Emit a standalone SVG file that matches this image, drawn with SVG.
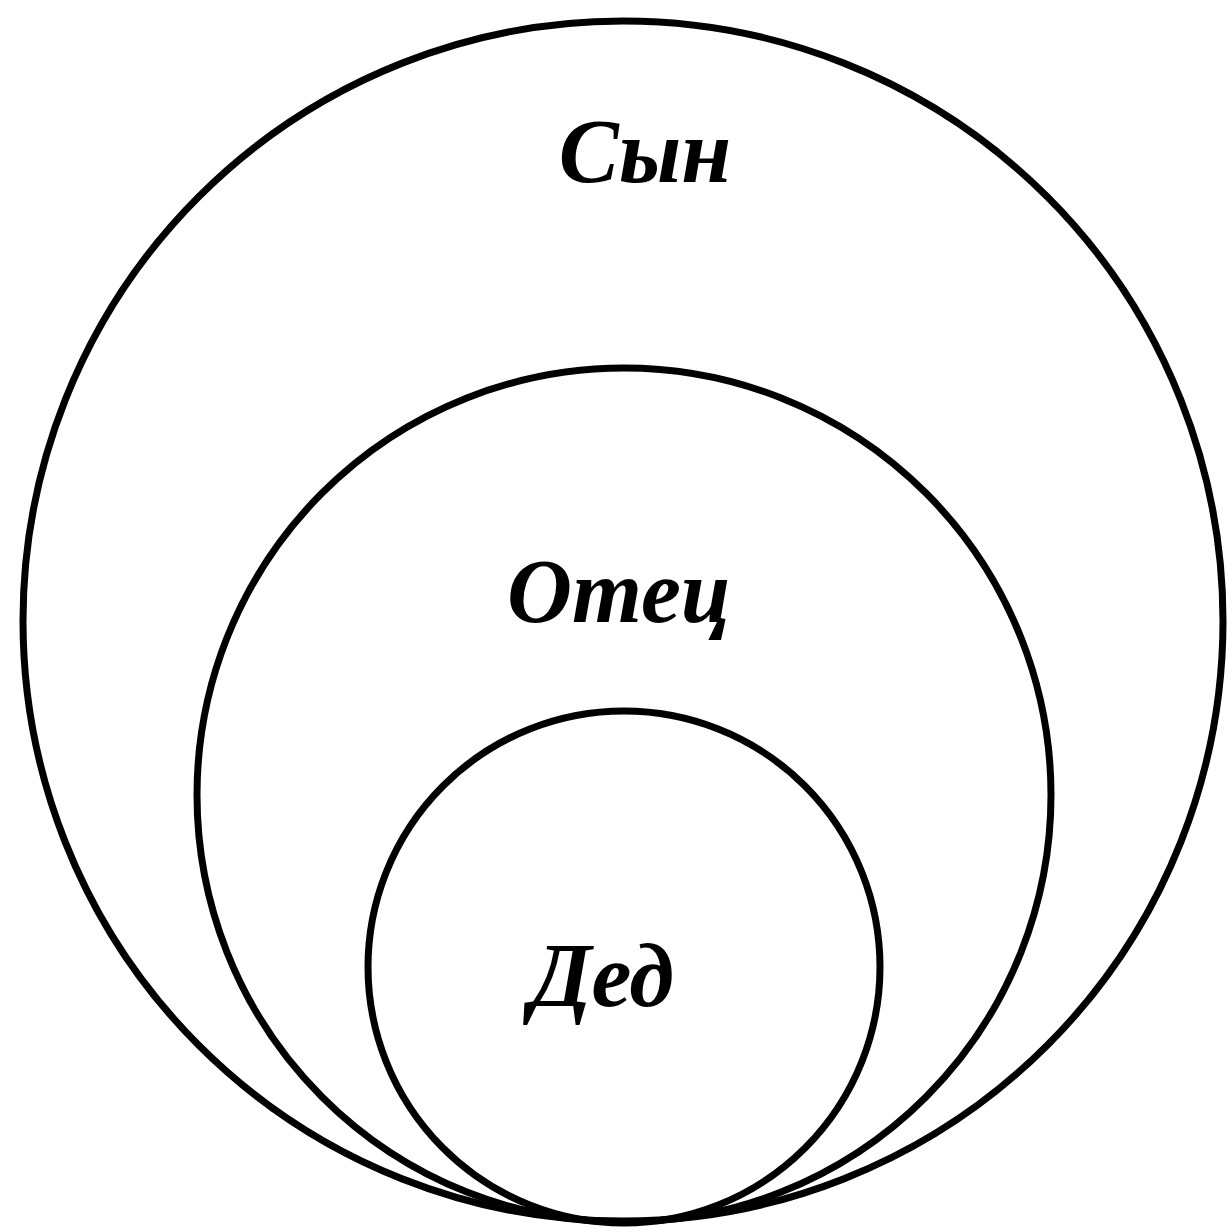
<svg xmlns="http://www.w3.org/2000/svg" width="1228" height="1229" viewBox="0 0 1228 1229">
<style>
.c{fill:none;stroke:#000;stroke-width:7}
.t{font-family:"Liberation Serif","Times New Roman",serif;font-weight:bold;font-style:italic;font-size:90px;fill:#000;text-anchor:middle}
</style>
<rect width="1228" height="1229" fill="#fff"/>
<g id="son"><circle class="c" cx="623" cy="621" r="600"/><text class="t" x="645" y="182">Сын</text></g>
<g id="father"><circle class="c" cx="624" cy="795" r="427"/><text class="t" x="619" y="622" font-size="92">Отец</text></g>
<g id="grandfather"><circle class="c" cx="624" cy="967" r="256"/><text class="t" x="602" y="1006" font-size="94">Дед</text></g>
<g id="connectors"/>
</svg>
